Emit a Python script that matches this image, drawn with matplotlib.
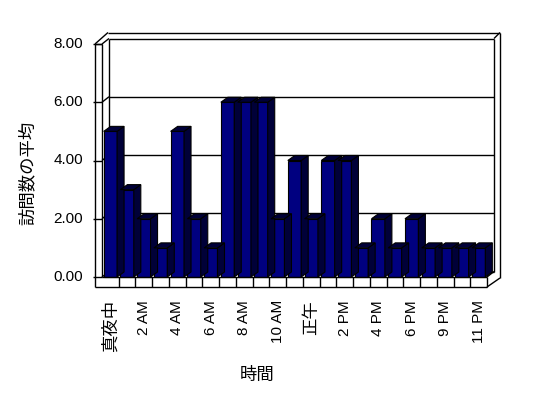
import matplotlib
matplotlib.use("Agg")
import matplotlib.pyplot as plt
from matplotlib.patches import Polygon, Rectangle

# ---------------- data ----------------
categories = ["真夜中", "1 AM", "2 AM", "3 AM", "4 AM", "5 AM", "6 AM", "7 AM",
              "8 AM", "9 AM", "10 AM", "11 AM", "正午", "1 PM", "2 PM", "3 PM",
              "4 PM", "5 PM", "6 PM", "7 PM", "9 PM", "10 PM", "11 PM"]
values = [5, 3, 2, 1, 5, 2, 1, 6, 6, 6, 2, 4, 2, 4, 4, 1, 2, 1, 2, 1, 1, 1, 1]
y_ticks = [0, 2, 4, 6, 8]
y_tick_labels = ["0.00", "2.00", "4.00", "6.00", "8.00"]
y_label = "訪問数の平均"
x_label = "時間"

# ---------------- figure ----------------
W, H = 548, 398
fig = plt.figure(figsize=(W / 100, H / 100), dpi=100)
fig.patch.set_facecolor("white")

n = len(categories)
x_left_px, x_right_px = 102, 487
y0_px, y8_px = 277, 44
ax = fig.add_axes([x_left_px / W, (H - y0_px) / H,
                   (x_right_px - x_left_px) / W, (y0_px - y8_px) / H])
ax.set_xlim(-0.5, n - 0.5)
ax.set_ylim(0, 8)
ax.axis("off")

SX = (x_right_px - x_left_px) / n   # px per category
SY = (y0_px - y8_px) / 8            # px per unit


def dx(p):
    return p / SX


def dy(p):
    return p / SY


L, R = -0.5, n - 0.5
TOP = 8
ddx, ddy = dx(7), dy(5.5)      # depth offset
tw = dx(7)                     # side wall thickness
fth = dy(10)                   # floor thickness
oth_x, oth_y = dx(6), dy(6)    # back wall thickness

lw = 1.0
lc = "black"


def line(xs, ys, z=1):
    ax.plot(xs, ys, color=lc, lw=lw, clip_on=False, zorder=z,
            solid_capstyle="butt")


# back wall inner face
ax.add_patch(Rectangle((L + ddx, ddy), R - L, TOP, facecolor="white",
                       edgecolor="none", clip_on=False, zorder=0))
# gridlines on back wall + side wall diagonals + ticks
for t in y_ticks[1:-1]:
    line([L + ddx, R + ddx], [t + ddy, t + ddy])
    line([L, L + ddx], [t, t + ddy])
for t in y_ticks:
    line([L - tw - dx(2), L], [t, t], z=3)

# frame lines
line([L - tw, L - tw], [-fth, TOP], z=3)                  # outer left
line([L, L], [0, TOP], z=3)                               # inner left (front)
line([L - tw, L], [TOP, TOP], z=3)                        # top of side slab
line([L - tw, L + ddx + dx(-1)], [TOP, TOP + ddy + oth_y], z=3)  # outer diag
line([L + ddx + dx(-1), R + ddx + oth_x], [TOP + ddy + oth_y] * 2, z=3)  # outer top
line([L, L + ddx], [TOP, TOP + ddy], z=3)                 # inner diag
line([L + ddx, R + ddx], [TOP + ddy] * 2, z=3)            # back wall top
line([R + ddx, R + ddx + oth_x], [TOP + ddy, TOP + ddy + oth_y], z=3)
line([R + ddx, R + ddx], [ddy, TOP + ddy], z=3)           # back wall right
line([R + ddx + oth_x] * 2, [dy(-1), TOP + ddy + oth_y], z=3)  # outer right
line([L + ddx, L + ddx], [ddy, TOP + ddy], z=1)           # back wall left
line([L + ddx, R + ddx], [ddy, ddy], z=1)                 # floor back edge
line([L, L + ddx], [0, ddy], z=1)
line([R, R + ddx], [0, ddy], z=3)
line([L, R], [0, 0], z=3)                                 # floor front top
line([L - tw, R], [-fth, -fth], z=3)                      # floor bottom
line([R, R + ddx + oth_x], [-fth, dy(-1)], z=3)           # bottom right diag
for k in range(1, n + 1):
    line([L + k, L + k], [-fth, 0], z=3)                  # category dividers

# ---------------- bars ----------------
bw = 0.8
front = "#000080"
dark = "#000038"
xs = list(range(n))
ax.bar(xs, values, width=bw, color=front, edgecolor="black", linewidth=0.8,
       zorder=2, clip_on=False)
bdx, bdy = dx(7), dy(5)
for x, v in zip(xs, values):
    xl, xr = x - bw / 2, x + bw / 2
    side = Polygon([(xr, 0), (xr + bdx, bdy), (xr + bdx, v + bdy), (xr, v)],
                   closed=True, facecolor=dark, edgecolor="black",
                   linewidth=0.8, zorder=2, clip_on=False)
    top = Polygon([(xl, v), (xr, v), (xr + bdx, v + bdy), (xl + bdx, v + bdy)],
                  closed=True, facecolor=dark, edgecolor="black",
                  linewidth=0.8, zorder=2, clip_on=False)
    ax.add_patch(side)
    ax.add_patch(top)

# ---------------- text ----------------
latin = ["Liberation Sans", "Noto Sans CJK JP"]
cjk = ["Noto Sans CJK JP", "Liberation Sans"]

for t, lab in zip(y_ticks, y_tick_labels):
    ax.text(L - dx(19), t, lab, ha="right", va="center", fontsize=11,
            family=latin, clip_on=False)

for i in range(0, n, 2):
    lab = categories[i]
    is_cjk = not any(c.isascii() and c.isalpha() for c in lab)
    ax.text(i, -dy(23), lab, rotation=90, ha="center", va="top",
            fontsize=12.5 if is_cjk else 11,
            family=cjk if is_cjk else latin, clip_on=False)

fig.text(257 / W, 1 - 375 / H, x_label, ha="center", va="center",
         fontsize=12.5, family=cjk)
fig.text(28 / W, 1 - 173 / H, y_label, ha="center", va="center",
         rotation=90, fontsize=12.5, family=cjk)

fig.savefig("out.png", dpi=100, facecolor="white")
